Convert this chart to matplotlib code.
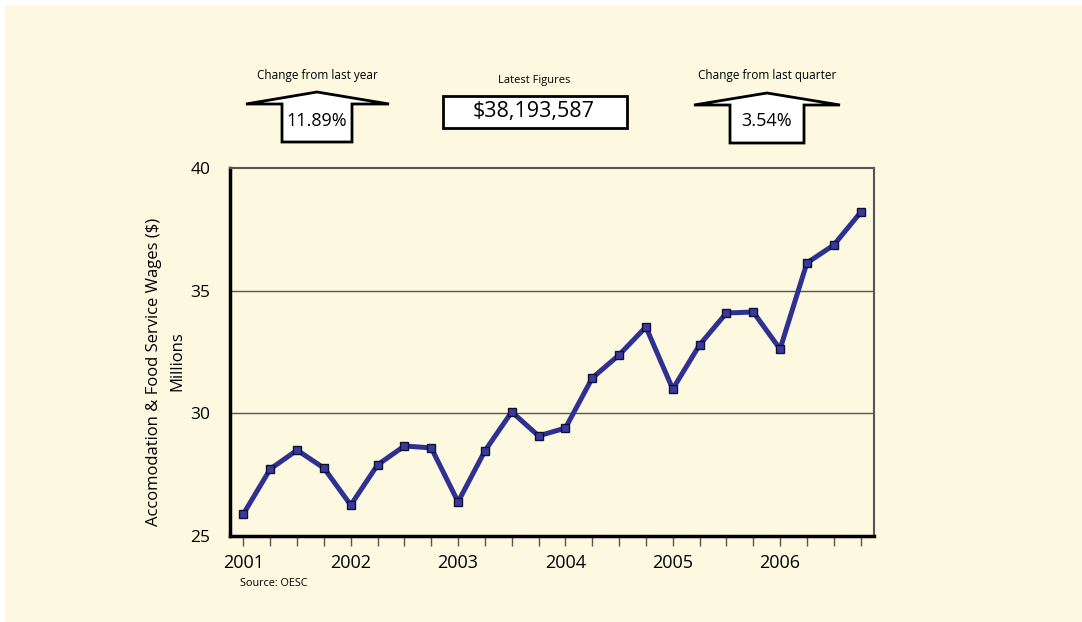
import matplotlib
matplotlib.use("Agg")
import matplotlib.pyplot as plt
from matplotlib.patches import Polygon, Rectangle

plt.rcParams['font.family'] = ['Open Sans', 'DejaVu Sans']

years = ["2001", "2002", "2003", "2004", "2005", "2006"]
wages = [25.90, 27.73, 28.50, 27.77,
         26.26, 27.90, 28.67, 28.59,
         26.39, 28.47, 30.06, 29.08,
         29.40, 31.44, 32.38, 33.52,
         30.99, 32.79, 34.09, 34.13,
         32.62, 36.13, 36.86, 38.19]
ytick_vals = [25, 30, 35, 40]
latest = "$38,193,587"
yoy_change = "11.89%"
qoq_change = "3.54%"

W, H = 1082, 622
bg = "#FCF9E0"
fig = plt.figure(figsize=(W / 100, H / 100), dpi=100, facecolor="white")
fig.patches.append(Rectangle((5 / W, 0), 1 - 5 / W, 1 - 5 / H, transform=fig.transFigure,
                             facecolor=bg, edgecolor="none", zorder=-10))

ax = fig.add_axes([230 / W, (H - 536) / H, (874 - 230) / W, (536 - 168) / H])
ax.set_facecolor(bg)
x = list(range(len(wages)))
ax.plot(x, wages, color="#2E3192", lw=3.6, marker="s", markersize=6,
        markerfacecolor="#3A3A9E", markeredgecolor="#111133", markeredgewidth=1, zorder=3)

ax.set_xlim(-0.5, len(wages) - 0.5)
ax.set_ylim(25, 40)
ax.set_yticks(ytick_vals)
ax.set_yticklabels([str(v) for v in ytick_vals], fontsize=12.5)
ax.tick_params(axis="y", length=0, pad=14)
ax.set_xticks(x)
ax.set_xticklabels([years[i // 4] if i % 4 == 0 else "" for i in x], fontsize=13)
ax.tick_params(axis="x", length=7, width=1, color="#555555", pad=6, direction="out")
for v in ytick_vals[1:-1]:
    ax.axhline(v, color="#555555", lw=1, zorder=1)

for s in ["left", "bottom"]:
    ax.spines[s].set_linewidth(2.5)
    ax.spines[s].set_color("black")
for s in ["top", "right"]:
    ax.spines[s].set_linewidth(1.5)
    ax.spines[s].set_color("#555555")

fig.text(154 / W, 1 - 372 / H, "Accomodation & Food Service Wages ($)", rotation=90,
         ha="center", va="center", fontsize=12)
fig.text(177 / W, 1 - 361 / H, "Millions", rotation=90, ha="center", va="center", fontsize=12)
fig.text(240 / W, 1 - 583 / H, "Source: OESC", ha="left", va="center", fontsize=7.8)

def px(xp, yp):
    return (xp / W, 1 - yp / H)

def up_arrow(left_tip, apex_x, apex_y, right_tip, head_y, shaft_l, shaft_r, bottom):
    pts = [px(left_tip, head_y), px(apex_x, apex_y), px(right_tip, head_y),
           px(shaft_r, head_y), px(shaft_r, bottom), px(shaft_l, bottom), px(shaft_l, head_y)]
    fig.patches.append(Polygon(pts, closed=True, transform=fig.transFigure,
                               facecolor="white", edgecolor="black", lw=2, joinstyle="miter"))

up_arrow(246, 317, 92, 389, 104, 282, 352, 142)
up_arrow(694, 767, 93, 840, 105, 730, 804, 143)

fig.patches.append(Rectangle(px(443, 128), (627 - 443) / W, (128 - 96) / H,
                             transform=fig.transFigure, facecolor="white",
                             edgecolor="black", lw=2))

fig.text(*px(317, 75), "Change from last year", ha="center", va="center", fontsize=8.5)
fig.text(*px(534, 80), "Latest Figures", ha="center", va="center", fontsize=8)
fig.text(*px(767, 76), "Change from last quarter", ha="center", va="center", fontsize=8.5)
fig.text(*px(317, 121), yoy_change, ha="center", va="center", fontsize=13)
fig.text(*px(534, 112), latest, ha="center", va="center", fontsize=15.5)
fig.text(*px(767, 121), qoq_change, ha="center", va="center", fontsize=13)

fig.savefig("out.png", dpi=100, facecolor=fig.get_facecolor())
